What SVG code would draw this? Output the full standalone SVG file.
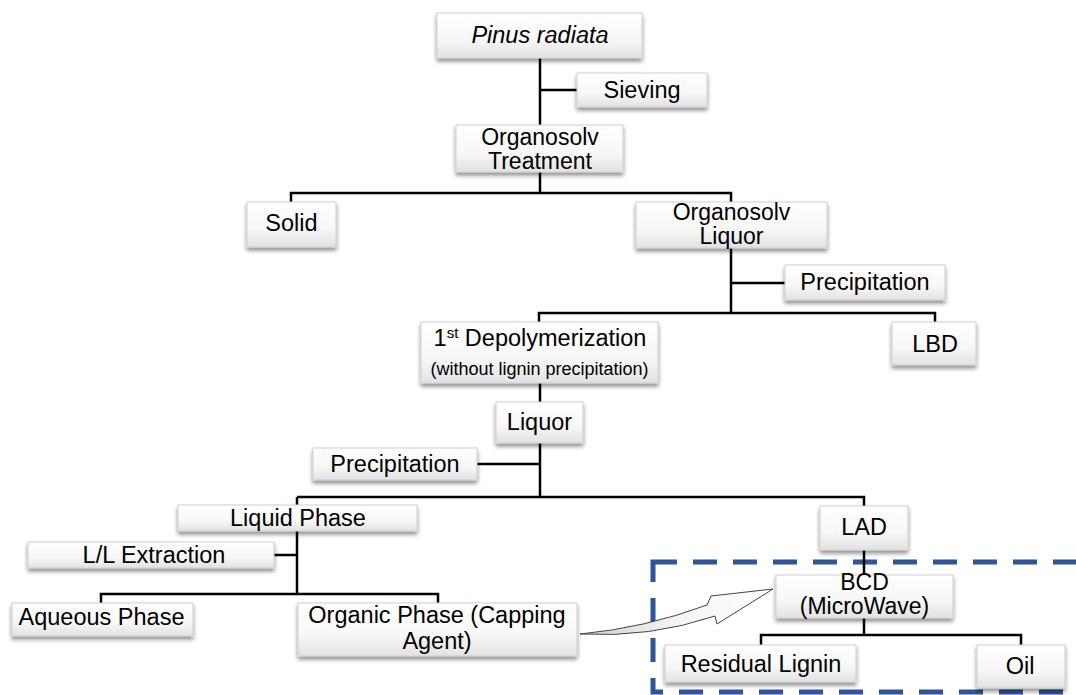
<svg xmlns="http://www.w3.org/2000/svg" width="1076" height="695" viewBox="0 0 1076 695">
<defs>
<linearGradient id="boxg" x1="0" y1="0" x2="0" y2="1">
<stop offset="0" stop-color="#ffffff"/>
<stop offset="0.6" stop-color="#f7f7f7"/>
<stop offset="1" stop-color="#e2e2e2"/>
</linearGradient>
<linearGradient id="arrg" x1="0" y1="0" x2="1" y2="0">
<stop offset="0" stop-color="#d0d0d0"/>
<stop offset="0.5" stop-color="#f4f4f4"/>
<stop offset="1" stop-color="#ffffff"/>
</linearGradient>
<filter id="sh" x="-10%" y="-20%" width="120%" height="160%">
<feGaussianBlur in="SourceAlpha" stdDeviation="2"/>
<feOffset dx="0" dy="3" result="b"/>
<feComponentTransfer><feFuncA type="linear" slope="0.45"/></feComponentTransfer>
<feMerge><feMergeNode/><feMergeNode in="SourceGraphic"/></feMerge>
</filter>
</defs>
<style>
.box{fill:url(#boxg);stroke:#cfcfcf;stroke-width:1;filter:url(#sh)}
.t{font-family:"Liberation Sans",Arial,sans-serif;font-size:23.5px;fill:#000;text-anchor:middle}
.s{font-size:18px}
.m{font-size:23px}
.c{stroke:#000;stroke-width:2.5;fill:none}
</style>
<rect id="region" x="653" y="562" width="440" height="130" fill="none" stroke="#2F5597" stroke-width="5" stroke-dasharray="24 16"/>
<g id="connectors">
<path class="c" d="M540 58V125M540 90H577M540 172V193M291 202V193H731V202M731 248V313M731 283H785M539 322V313H935V322M540 383V402M540 443V497M477 464H540M297 497H864V506M297 497V594M274 555H297M101 603V594H438V603M864 550V575M864 618V635M761 645V635H1021V645"/>
</g>
<g id="n-pinus"><rect class="box" x="437" y="13" width="205" height="45"/><text class="t" x="540" y="43" font-style="italic">Pinus radiata</text></g>
<g id="n-sieving"><rect class="box" x="577" y="73" width="130" height="34"/><text class="t" x="642" y="98">Sieving</text></g>
<g id="n-organosolv-treatment"><rect class="box" x="456" y="125" width="167" height="47"/><text class="t m" x="540" y="145">Organosolv</text><text class="t m" x="540" y="169">Treatment</text></g>
<g id="n-solid"><rect class="box" x="247" y="202" width="89" height="45"/><text class="t" x="291.5" y="231">Solid</text></g>
<g id="n-organosolv-liquor"><rect class="box" x="636" y="202" width="191" height="46"/><text class="t m" x="731.5" y="220">Organosolv</text><text class="t m" x="731.5" y="244">Liquor</text></g>
<g id="n-precip1"><rect class="box" x="785" y="265" width="160" height="35"/><text class="t" x="865" y="290">Precipitation</text></g>
<g id="n-lbd"><rect class="box" x="892" y="322" width="84" height="43"/><text class="t" x="935" y="352">LBD</text></g>
<g id="n-depol"><rect class="box" x="421" y="322" width="237" height="61"/><text class="t" x="540" y="346">1<tspan font-size="15" dy="-8">st</tspan><tspan dy="8"> Depolymerization</tspan></text><text class="t s" x="539.5" y="375">(without lignin precipitation)</text></g>
<g id="n-liquor"><rect class="box" x="496" y="402" width="87" height="41"/><text class="t" x="539.5" y="430">Liquor</text></g>
<g id="n-precip2"><rect class="box" x="313" y="448" width="164" height="32"/><text class="t" x="395" y="472">Precipitation</text></g>
<g id="n-liquid"><rect class="box" x="178" y="505" width="239" height="26"/><text class="t" x="298" y="526">Liquid Phase</text></g>
<g id="n-ll"><rect class="box" x="28" y="542" width="246" height="26"/><text class="t" x="154" y="563">L/L Extraction</text></g>
<g id="n-aqueous"><rect class="box" x="12" y="603" width="181" height="33"/><text class="t" x="101.5" y="625">Aqueous Phase</text></g>
<g id="n-organic"><rect class="box" x="298" y="603" width="279" height="53"/><text class="t" x="437" y="623">Organic Phase (Capping</text><text class="t" x="437" y="649">Agent)</text></g>
<g id="n-lad"><rect class="box" x="820" y="506" width="88" height="44"/><text class="t" x="864" y="535">LAD</text></g>
<g id="n-bcd"><rect class="box" x="776" y="575" width="177" height="43"/><text class="t m" x="864.5" y="590">BCD</text><text class="t m" x="864.5" y="614">(MicroWave)</text></g>
<g id="n-residual"><rect class="box" x="665" y="645" width="191" height="37"/><text class="t" x="761" y="672">Residual Lignin</text></g>
<g id="n-oil"><rect class="box" x="977" y="645" width="88" height="43"/><text class="t" x="1020" y="674">Oil</text></g>
<g id="arrow"><path d="M580 634Q645 628 707 605L711 596L773 589L717 624L715 616Q650 638 580 634Z" fill="url(#arrg)" stroke="#444" stroke-width="1"/></g>
</svg>
